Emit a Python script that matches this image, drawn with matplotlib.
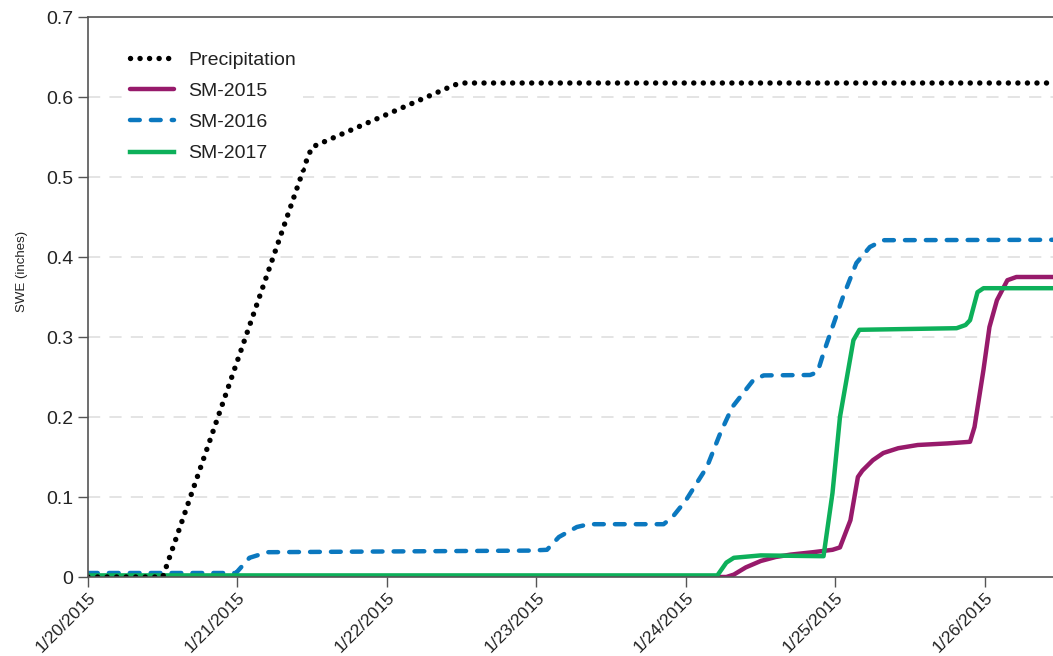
import datetime as dt
import matplotlib
matplotlib.use("Agg")
import matplotlib.pyplot as plt
import matplotlib.dates as mdates

plt.rcParams["font.family"] = ["Liberation Sans Narrow", "Liberation Sans", "DejaVu Sans"]

start = dt.datetime(2015, 1, 20)

# times are days after 1/20/2015 00:00, values are SWE in inches
precip_t = [0, 0.5, 1.47, 1.5, 2.45, 2.5, 6.46]
precip_v = [0, 0, 0.525, 0.5375, 0.615, 0.6175, 0.6175]

sm2015_t = [0, 4.27, 4.32, 4.4, 4.5, 4.6, 4.7, 4.85, 4.98, 5.03, 5.10, 5.15, 5.18,
            5.25, 5.32, 5.42, 5.55, 5.75, 5.90, 5.93, 5.99, 6.03, 6.08, 6.15, 6.21, 6.46]
sm2015_v = [0, 0, 0.003, 0.012, 0.02, 0.025, 0.028, 0.031, 0.034, 0.037, 0.071, 0.125,
            0.133, 0.146, 0.155, 0.161, 0.165, 0.167, 0.169, 0.1875, 0.259, 0.3125,
            0.346, 0.371, 0.375, 0.375]

sm2016_t = [0, 0.99, 1.08, 1.2, 2.95, 3.07, 3.15, 3.27, 3.35, 3.85, 3.91, 4.0, 4.14,
            4.23, 4.31, 4.45, 4.52, 4.83, 4.88, 4.92, 4.98, 5.05, 5.14, 5.23, 5.32, 6.46]
sm2016_v = [0.005, 0.005, 0.024, 0.031, 0.033, 0.034, 0.05, 0.0625, 0.066, 0.066, 0.075,
            0.096, 0.1375, 0.18, 0.2125, 0.246, 0.252, 0.2525, 0.256, 0.28, 0.3125, 0.35,
            0.3925, 0.4125, 0.421, 0.4215]

sm2017_t = [0, 4.21, 4.27, 4.32, 4.5, 4.92, 4.98, 5.03, 5.12, 5.16, 5.81, 5.87,
            5.90, 5.95, 5.99, 6.46]
sm2017_v = [0.002, 0.002, 0.018, 0.024, 0.027, 0.026, 0.105, 0.2, 0.296, 0.309, 0.311,
            0.315, 0.321, 0.356, 0.361, 0.361]

x_ticks = [0, 1, 2, 3, 4, 5, 6]
x_labels = ["1/20/2015", "1/21/2015", "1/22/2015", "1/23/2015",
            "1/24/2015", "1/25/2015", "1/26/2015"]
y_ticks = [0, 0.1, 0.2, 0.3, 0.4, 0.5, 0.6, 0.7]
y_labels = ["0", "0.1", "0.2", "0.3", "0.4", "0.5", "0.6", "0.7"]


def to_dates(days):
    return [start + dt.timedelta(days=d) for d in days]


fig = plt.figure(figsize=(10.53, 6.56), dpi=100)
ax = fig.add_axes([88 / 1053, 79 / 656, 965 / 1053, 560 / 656])

l15, = ax.plot(to_dates(sm2015_t), sm2015_v, color="#971a6b", lw=3.2,
               solid_capstyle="round", solid_joinstyle="round", label="SM-2015")
l16, = ax.plot(to_dates(sm2016_t), sm2016_v, color="#0b78bf", lw=3.2,
               linestyle=(0, (2.2, 2.5)), dash_capstyle="round",
               dash_joinstyle="round", label="SM-2016")
l17, = ax.plot(to_dates(sm2017_t), sm2017_v, color="#0db05a", lw=3.2,
               solid_joinstyle="round", label="SM-2017")
lp, = ax.plot(to_dates(precip_t), precip_v, color="black", lw=3.9,
              linestyle=(0, (0.01, 1.75)), dash_capstyle="round", label="Precipitation")

# axes limits and ticks
ax.set_xlim(mdates.date2num(start), mdates.date2num(start + dt.timedelta(days=6.455)))
ax.set_ylim(0, 0.7)
ax.set_xticks(to_dates(x_ticks))
ax.set_xticklabels(x_labels, rotation=45, ha="right", va="top", rotation_mode="anchor")
ax.set_yticks(y_ticks)
ax.set_yticklabels(y_labels)
ax.tick_params(axis="both", direction="out", length=7, width=1, color="#555555",
               labelsize=14, labelcolor="#222222")
ax.tick_params(axis="x", pad=2, labelsize=12.5)

for s in ["left", "bottom", "top"]:
    ax.spines[s].set_color("#555555")
    ax.spines[s].set_linewidth(1.2)
ax.spines["right"].set_visible(False)

# light dashed horizontal gridlines
for yv in y_ticks[1:-1]:
    ax.axhline(yv, color="#dddddd", lw=1.1, linestyle=(0, (8, 6)), zorder=0)

ax.set_ylabel("SWE (inches)", fontsize=9.5, color="#222222")
ax.yaxis.set_label_coords(-0.062, 0.545)

leg = ax.legend(handles=[lp, l15, l16, l17], loc="upper left", frameon=True,
                fontsize=14, handlelength=2.3, handletextpad=0.7, labelspacing=0.7,
                bbox_to_anchor=(0.035, 0.953), borderaxespad=0)
leg.get_frame().set_edgecolor("none")
leg.get_frame().set_facecolor("white")
leg.get_frame().set_alpha(1)
for t in leg.get_texts():
    t.set_color("#222222")

fig.savefig("out.png", dpi=100)
